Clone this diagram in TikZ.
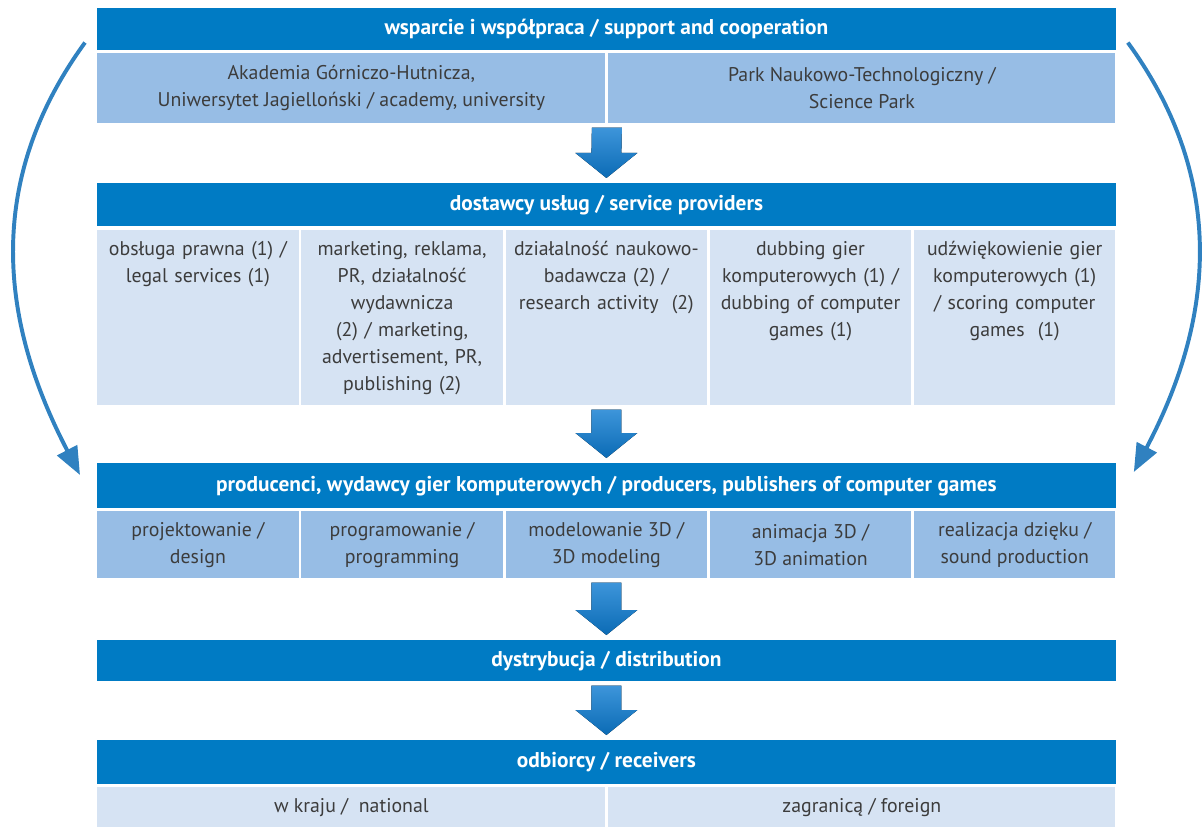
\documentclass[tikz,border=0pt]{standalone}
\usepackage{fontspec}
\setmainfont{PT Sans}
\usetikzlibrary{arrows.meta,calc}
\definecolor{hdrblue}{HTML}{007BC4}
\definecolor{midblue}{HTML}{97BDE5}
\definecolor{paleblue}{HTML}{D6E3F3}
\definecolor{txtgray}{HTML}{3C3C3C}
\definecolor{arrowtop}{HTML}{3D95DA}
\definecolor{arrowbot}{HTML}{0B6BB5}

\begin{document}
\begin{tikzpicture}[x=0.025cm, y=-0.025cm,
  header/.style={anchor=north west, fill=hdrblue, text=white, font=\fontsize{15.2}{19.2}\selectfont\bfseries,
    minimum width=25.45cm, inner sep=0pt},
  cell/.style={anchor=north west, text=txtgray, font=\fontsize{14.1}{19.2}\selectfont, align=center, inner sep=0pt},
  halfcell/.style={cell, minimum height=1.75cm},
  svc/.style={cell, fill=paleblue, minimum width=5.03cm, minimum height=4.375cm, text width=4.95cm,
    text height=0.625cm, text depth=3.75cm},
  task/.style={cell, fill=midblue, minimum width=5.03cm, minimum height=1.675cm},
  blockarrow/.style={top color=arrowtop, bottom color=arrowbot},
  bendarrow/.style={draw=arrowbot!85!white, line width=2.8pt, -{Triangle[length=0.7cm,width=0.55cm]}}
]
\useasboundingbox (0,0) rectangle (1202,827);

% support and cooperation
\node[header, minimum height=1.05cm] (hdr1) at (97,8) {wsparcie i współpraca / support and cooperation};
\node[halfcell, fill=midblue, minimum width=12.7cm] (akad) at (97,53)
  {Akademia Górniczo-Hutnicza,\\ Uniwersytet Jagielloński / academy, university};
\node[halfcell, fill=midblue, minimum width=12.675cm] (park) at (608,53)
  {Park Naukowo-Technologiczny /\\ Science Park};
\coordinate (gap1) at ($(akad.south east)!0.5!(park.south west)$);

% service providers
\node[header, minimum height=1.075cm] (hdr2) at (97,183) {dostawcy usług / service providers};
\node[svc] (srv1) at (97,230) {obsługa prawna (1) /\\ legal services (1)};
\node[svc] (srv2) at (301.2,230)
  {marketing, reklama,\\ PR, działalność\\ wydawnicza\\ (2) / marketing,\\ advertisement, PR,\\ publishing (2)};
\node[svc] (srv3) at (505.4,230) {działalność naukowo-\\ badawcza (2) /\\ research activity~~(2)};
\node[svc] (srv4) at (709.6,230) {dubbing gier\\ komputerowych (1) /\\ dubbing of computer\\ games (1)};
\node[svc] (srv5) at (913.8,230) {udźwiękowienie gier\\ komputerowych (1)\\ / scoring computer\\ games~~(1)};

% producers
\node[header, minimum height=1.125cm] (hdr3) at (97,463)
  {producenci, wydawcy gier komputerowych / producers, publishers of computer games};
\node[task] (prod1) at (97,511) {projektowanie /\\ design};
\node[task] (prod2) at (301.2,511) {programowanie /\\ programming};
\node[task] (prod3) at (505.4,511) {modelowanie 3D /\\ 3D modeling};
\node[task] (prod4) at (709.6,511) {animacja 3D /\\ 3D animation};
\node[task] (prod5) at (913.8,511) {realizacja dzięku /\\ sound production};

% distribution
\node[header, minimum height=1.025cm] (hdr4) at (97,640) {dystrybucja / distribution};

% receivers
\node[header, minimum height=1.1cm] (hdr5) at (97,740) {odbiorcy / receivers};
\node[cell, fill=paleblue, minimum width=12.7cm, minimum height=1cm] (home) at (97,787) {w kraju /~~national};
\node[cell, fill=paleblue, minimum width=12.675cm, minimum height=1cm] (abroad) at (608,787) {zagranicą / foreign};

% block arrows between levels
\foreach \from/\to in {gap1/hdr2.north, srv3.south/hdr3.north, prod3.south/hdr4.north, hdr4.south/hdr5.north}
  \fill[blockarrow] ($(\from)+(-15,4)$) -- ($(\from)+(15,4)$) -- ($(\to)+(15,-30)$) -- ($(\to)+(31,-30)$)
    -- ($(\to)+(0,-5)$) -- ($(\to)+(-31,-30)$) -- ($(\to)+(-15,-30)$) -- cycle;

% support reaches the producers
\draw[bendarrow] ($(hdr1.south west)+(-12,-8)$) .. controls +(-115,158) and +(-65,-125) .. ($(hdr3.north west)+(-17,12)$);
\draw[bendarrow] ($(hdr1.south east)+(12,-8)$) .. controls +(115,158) and +(64,-122) .. ($(hdr3.north east)+(18,9)$);

\end{tikzpicture}
\end{document}
